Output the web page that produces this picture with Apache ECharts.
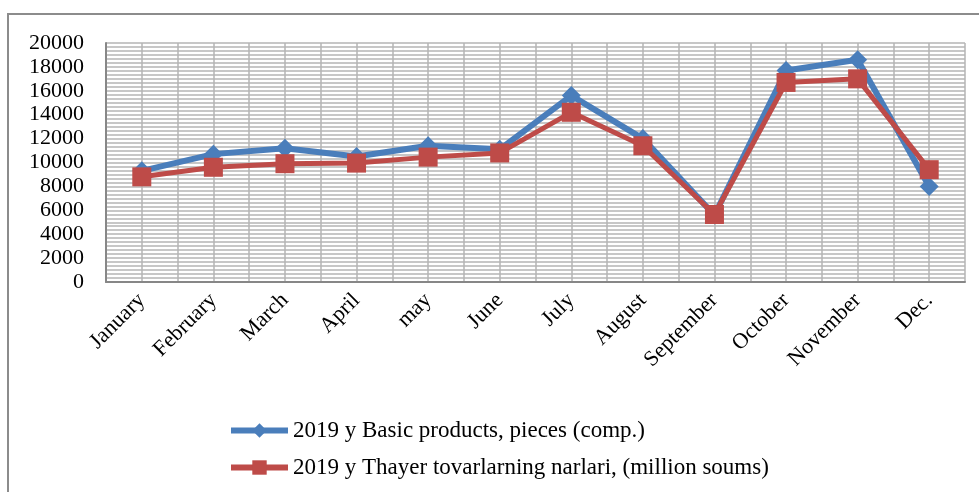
<!DOCTYPE html>
<html>
<head>
<meta charset="utf-8">
<script src="https://cdn.jsdelivr.net/npm/echarts@6/dist/echarts.min.js"></script>
<style>
  html, body { margin: 0; padding: 0; background: #fff; }
  #chart { width: 979px; height: 492px; }
</style>
</head>
<body>
<div id="chart"></div>
<script>
// Monthly figures for 2019
const months = ['January', 'February', 'March', 'April', 'may', 'June', 'July', 'August', 'September', 'October', 'November', 'Dec.'];
const basicProducts = [9300, 10700, 11200, 10500, 11400, 11100, 15600, 12000, 5600, 17700, 18600, 8000];
const goodsValue = [8800, 9600, 9900, 9950, 10450, 10800, 14200, 11400, 5650, 16700, 17000, 9400];
const seriesNames = ['2019 y Basic products, pieces (comp.)', '2019 y Thayer tovarlarning narlari, (million soums)'];

const chart = echarts.init(document.getElementById('chart'));
const serif = 'Liberation Serif';
const blue = '#4A7EBB';
const red = '#BE4B48';

chart.setOption({
  animation: false,
  backgroundColor: '#fff',
  graphic: [{
    type: 'rect',
    shape: { x: 8, y: 14, width: 1000, height: 500 },
    style: { fill: 'none', stroke: '#8c8c8c', lineWidth: 2 },
    z: -10
  }],
  grid: { left: 106, right: 14, top: 43, bottom: 210, show: false },
  legend: {
    orient: 'vertical',
    left: 228,
    top: 419,
    padding: 0,
    itemWidth: 57,
    itemHeight: 18,
    itemGap: 14,
    textStyle: { fontFamily: serif, fontSize: 23, color: '#000' },
    data: [
      { name: seriesNames[0], lineStyle: { width: 6 } },
      { name: seriesNames[1], lineStyle: { width: 6 } }
    ]
  },
  xAxis: [{
    type: 'category',
    data: months,
    boundaryGap: true,
    axisLine: { lineStyle: { color: '#878787', width: 2 } },
    axisTick: { show: false },
    splitLine: { show: false },
    axisLabel: {
      rotate: 45,
      interval: 0,
      margin: 15,
      fontFamily: serif,
      fontSize: 22,
      color: '#000'
    }
  }, {
    // half-category vertical gridlines
    type: 'value',
    min: 0,
    max: 24,
    interval: 1,
    position: 'top',
    axisLine: { show: false },
    axisTick: { show: false },
    axisLabel: { show: false },
    splitLine: { show: true, lineStyle: { color: '#b5b5b5', width: 1.5 } }
  }],
  yAxis: {
    type: 'value',
    min: 0,
    max: 20000,
    interval: 2000,
    axisLine: { show: true, lineStyle: { color: '#878787', width: 2 } },
    axisTick: { show: false },
    axisLabel: {
      margin: 22,
      fontFamily: serif,
      fontSize: 22,
      color: '#000',
      formatter: v => String(v)
    },
    splitLine: { show: true, lineStyle: { color: '#b5b5b5', width: 1.5 } },
    minorTick: { show: false, splitNumber: 6 },
    minorSplitLine: { show: true, lineStyle: { color: '#b5b5b5', width: 1.5 } }
  },
  series: [{
    name: seriesNames[0],
    type: 'line',
    data: basicProducts,
    symbol: 'diamond',
    symbolSize: [19, 19],
    itemStyle: { color: blue },
    lineStyle: { color: blue, width: 6 },
    z: 2
  }, {
    name: seriesNames[1],
    type: 'line',
    data: goodsValue,
    symbol: 'rect',
    symbolSize: [19, 19],
    itemStyle: { color: red },
    lineStyle: { color: red, width: 5 },
    z: 3
  }]
});
</script>
</body>
</html>
